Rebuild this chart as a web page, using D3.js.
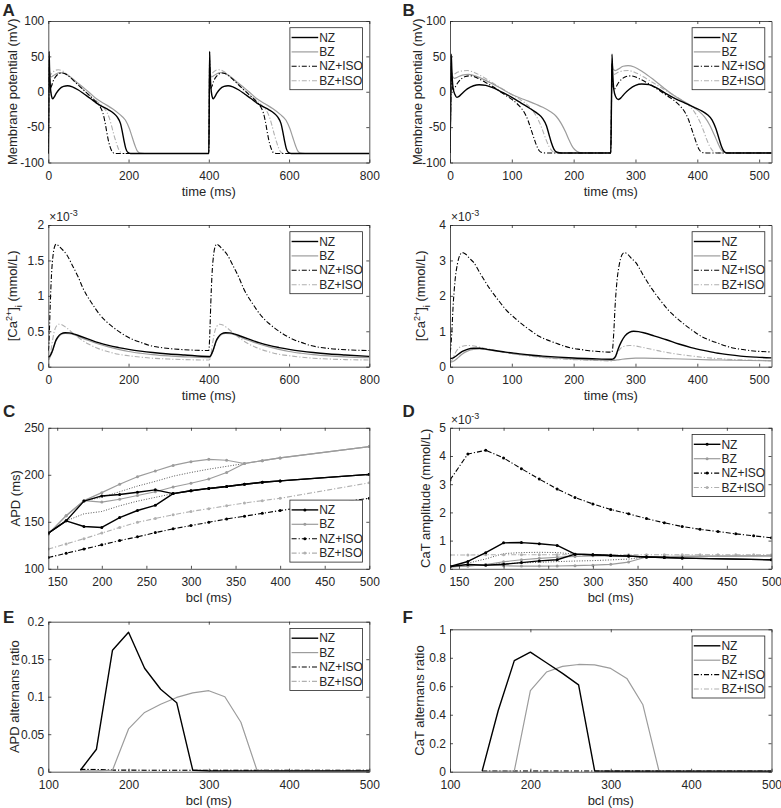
<!DOCTYPE html>
<html>
<head>
<meta charset="utf-8">
<script src="https://cdnjs.cloudflare.com/ajax/libs/d3/7.8.5/d3.min.js"></script>
<style>
body { margin: 0; background: #fff; }
text { font-family: "Liberation Sans", Arial, sans-serif; fill: #262626; }
</style>
</head>
<body>
<script>

// ---------- data ----------

var legendKeys = ["NZ", "BZ", "NZ+ISO", "BZ+ISO"];

// A: membrane potential, bcl 400 ms (time ms, mV)
var apA_NZ = [[0,-87.3],[1,-30],[2,57],[3,35],[5,8],[8,-6],[11,-10],[14,-8],[20,-2],[28,4],[38,7.5],[48,8.5],[60,7],[75,2.5],[90,-3.5],[105,-9.5],[120,-16],[135,-21],[150,-25.5],[162,-30],[172,-36],[180,-45],[185,-58],[189,-70],[193,-80],[198,-85.5],[205,-87.2],[260,-87.3],[399,-87.3],
  [400,-87.3],[401,-30],[402,57],[403,35],[405,8],[408,-6],[411,-10],[414,-8],[420,-2],[428,4],[438,7.5],[448,8.5],[460,7],[475,2.5],[490,-3.5],[505,-9.5],[520,-16],[535,-21],[550,-25.5],[562,-30],[572,-36],[580,-45],[585,-58],[589,-70],[593,-80],[598,-85.5],[605,-87.2],[660,-87.3],[800,-87.3]];
var apA_BZ = [[0,-87.3],[1,-30],[2,32],[4,24],[7,21],[12,22.5],[20,25.5],[30,27],[40,26],[55,21],[70,14],[85,7],[100,0],[120,-10],[140,-17],[160,-24],[178,-32],[192,-40],[202,-52],[209,-64],[216,-76],[222,-84],[229,-86.8],[240,-87.3],[399,-87.3],
  [400,-87.3],[401,-30],[402,32],[404,24],[407,21],[412,22.5],[420,25.5],[430,27],[440,26],[455,21],[470,14],[485,7],[500,0],[520,-10],[540,-17],[560,-24],[578,-32],[592,-40],[602,-52],[609,-64],[616,-76],[622,-84],[629,-86.8],[640,-87.3],[800,-87.3]];
var apA_NZISO = [[0,-87.3],[1,-30],[2,45],[3,20],[5,5],[8,8],[12,15],[18,21],[25,25],[33,26.5],[42,25.5],[55,20],[70,12],[85,4],[100,-4],[112,-10],[122,-16],[130,-22],[136,-30],[141,-42],[146,-58],[151,-72],[156,-81],[161,-86],[168,-87.3],[399,-87.3],
  [400,-87.3],[401,-30],[402,45],[403,20],[405,5],[408,8],[412,15],[418,21],[425,25],[433,26.5],[442,25.5],[455,20],[470,12],[485,4],[500,-4],[512,-10],[522,-16],[530,-22],[536,-30],[541,-42],[546,-58],[551,-72],[556,-81],[561,-86],[568,-87.3],[800,-87.3]];
var apA_BZISO = [[0,-87.3],[1,-30],[2,35],[4,24],[7,25],[12,28],[18,30.5],[25,31],[35,29.5],[50,23],[65,15],[80,7],[95,-1],[110,-8],[122,-14],[134,-20],[144,-27],[152,-37],[158,-49],[164,-62],[170,-73],[175,-81],[180,-85.5],[186,-87.2],[399,-87.3],
  [400,-87.3],[401,-30],[402,35],[404,24],[407,25],[412,28],[418,30.5],[425,31],[435,29.5],[450,23],[465,15],[480,7],[495,-1],[510,-8],[522,-14],[534,-20],[544,-27],[552,-37],[558,-49],[564,-62],[570,-73],[575,-81],[580,-85.5],[586,-87.2],[800,-87.3]];

// B: membrane potential, bcl 260 ms
var apB_NZ = [[0,-86.5],[1,-30],[2,53],[3,30],[5,5],[8,-4],[11,-8],[14,-7],[20,-2],[28,4],[38,8.5],[47,10],[58,9],[70,5.5],[85,-1],[100,-8],[115,-16],[130,-24],[142,-31],[150,-38],[156,-48],[160,-60],[164,-72],[168,-81],[173,-85.5],[180,-86.5],[259,-86.5],
  [260,-86.5],[261,-30],[262,53],[263,30],[265,3],[268,-7],[272,-11],[276,-9],[282,-3],[290,3.5],[300,9],[310,11],[322,10],[335,5],[350,-3],[365,-10],[380,-16],[395,-22],[407,-27],[417,-33],[424,-40],[430,-52],[435,-66],[439,-77],[443,-84],[448,-86.5],[520,-86.5]];
var apB_BZ = [[0,-86.5],[1,-30],[2,30],[4,22],[7,19],[12,20.5],[20,23.5],[30,24.5],[45,21],[60,15],[80,6],[100,-4],[120,-11],[140,-18],[150,-22],[162,-28],[172,-35],[180,-45],[187,-57],[193,-69],[199,-79],[205,-84],[212,-86.3],[220,-86.5],[259,-86.5],
  [260,-86.5],[261,-30],[262,40],[264,32],[267,30],[272,32],[280,36],[288,37],[298,35],[312,28],[328,18],[345,6],[360,-4],[375,-12],[390,-20],[402,-27],[412,-36],[420,-47],[427,-60],[433,-72],[438,-81],[444,-85.5],[450,-86.5],[520,-86.5]];
var apB_NZISO = [[0,-86.5],[1,-30],[2,40],[3,15],[5,3],[8,6],[12,12],[18,18],[25,21.5],[33,22.5],[45,19],[60,12],[75,4],[90,-5],[102,-12],[112,-20],[120,-29],[126,-40],[131,-53],[136,-66],[140,-76],[144,-83],[149,-86],[155,-86.5],[259,-86.5],
  [260,-86.5],[261,-30],[262,40],[263,15],[265,3],[268,6],[272,12],[278,18],[285,21.5],[293,22.5],[305,19],[320,12],[335,4],[350,-5],[362,-12],[372,-20],[380,-29],[386,-40],[391,-53],[396,-66],[400,-76],[404,-83],[409,-86],[415,-86.5],[520,-86.5]];
var apB_BZISO = [[0,-86.5],[1,-30],[2,32],[4,24],[7,25],[12,27.5],[20,29.5],[28,30],[40,27],[55,20],[70,12],[85,4],[100,-4],[115,-12],[127,-20],[135,-28],[140,-35],[145,-44],[150,-55],[155,-67],[160,-77],[165,-83.5],[171,-86.3],[178,-86.5],[259,-86.5],
  [260,-86.5],[261,-30],[262,32],[264,24],[267,25],[272,27.5],[280,29.5],[288,30],[300,27],[315,20],[330,12],[345,4],[360,-4],[375,-12],[387,-20],[395,-28],[400,-35],[405,-44],[410,-55],[415,-67],[420,-77],[425,-83.5],[431,-86.3],[438,-86.5],[520,-86.5]];

// calcium transients (x 1e-3 mmol/L), bcl 400
var caA_NZ = [[0,0.14],[3,0.145],[6,0.17],[10,0.22],[14,0.29],[18,0.36],[24,0.42],[32,0.465],[42,0.48],[52,0.478],[65,0.46],[80,0.43],[100,0.39],[125,0.34],[150,0.3],[175,0.27],[200,0.245],[230,0.22],[260,0.2],[300,0.18],[340,0.165],[399,0.145],
  [400,0.145],[403,0.145],[406,0.17],[410,0.22],[414,0.29],[418,0.36],[424,0.42],[432,0.465],[442,0.48],[452,0.478],[465,0.46],[480,0.43],[500,0.39],[525,0.34],[550,0.3],[575,0.27],[600,0.245],[630,0.22],[660,0.2],[700,0.18],[740,0.165],[800,0.145]];
var caA_BZ = [[0,0.125],[3,0.13],[6,0.16],[10,0.21],[14,0.28],[18,0.35],[24,0.41],[32,0.455],[42,0.47],[52,0.468],[65,0.45],[80,0.415],[100,0.37],[125,0.32],[150,0.28],[175,0.245],[200,0.215],[230,0.19],[260,0.17],[300,0.152],[340,0.14],[399,0.128],
  [400,0.128],[403,0.13],[406,0.16],[410,0.21],[414,0.28],[418,0.35],[424,0.41],[432,0.455],[442,0.47],[452,0.468],[465,0.45],[480,0.415],[500,0.37],[525,0.32],[550,0.28],[575,0.245],[600,0.215],[630,0.19],[660,0.17],[700,0.152],[740,0.14],[800,0.128]];
var caA_NZISO = [[0,0.226],[1,0.28],[3,0.55],[5,0.9],[8,1.3],[12,1.58],[16,1.7],[20,1.73],[25,1.71],[32,1.67],[46,1.58],[60,1.43],[75,1.26],[87,1.1],[108,0.9],[129,0.73],[150,0.61],[170,0.52],[190,0.445],[212,0.38],[232,0.34],[253,0.3],[275,0.275],[295,0.26],[330,0.243],[370,0.232],[399,0.228],
  [400,0.228],[401,0.28],[403,0.55],[405,0.9],[408,1.3],[412,1.58],[416,1.7],[420,1.73],[425,1.71],[432,1.67],[446,1.58],[460,1.43],[475,1.26],[487,1.1],[508,0.9],[529,0.73],[550,0.61],[570,0.52],[590,0.445],[612,0.38],[632,0.34],[653,0.3],[675,0.275],[695,0.26],[730,0.243],[770,0.232],[800,0.228]];
var caA_BZISO = [[0,0.1],[3,0.11],[6,0.2],[10,0.35],[15,0.5],[20,0.57],[27,0.6],[35,0.59],[45,0.55],[60,0.48],[80,0.39],[100,0.32],[125,0.255],[150,0.21],[175,0.175],[200,0.155],[230,0.135],[260,0.12],[300,0.108],[340,0.1],[399,0.095],
  [400,0.095],[403,0.11],[406,0.2],[410,0.35],[415,0.5],[420,0.57],[427,0.6],[435,0.59],[445,0.55],[460,0.48],[480,0.39],[500,0.32],[525,0.255],[550,0.21],[575,0.175],[600,0.155],[630,0.135],[660,0.12],[700,0.108],[740,0.1],[800,0.095]];

// calcium transients (x 1e-3 mmol/L), bcl 260
var caB_NZ = [[0,0.23],[4,0.24],[8,0.28],[14,0.36],[20,0.43],[28,0.49],[38,0.52],[48,0.52],[60,0.49],[75,0.45],[90,0.41],[110,0.37],[130,0.33],[150,0.3],[175,0.27],[200,0.245],[230,0.225],[262,0.21],
  [264,0.22],[268,0.3],[272,0.5],[277,0.7],[283,0.87],[290,0.97],[297,1.0],[305,0.99],[315,0.95],[330,0.87],[350,0.76],[370,0.64],[390,0.54],[410,0.46],[430,0.39],[450,0.34],[470,0.3],[495,0.27],[520,0.25]];
var caB_BZ = [[0,0.13],[4,0.14],[8,0.18],[14,0.27],[20,0.36],[28,0.44],[38,0.49],[48,0.5],[60,0.48],[75,0.44],[90,0.4],[110,0.35],[130,0.31],[150,0.27],[175,0.24],[200,0.215],[230,0.195],[262,0.18],
  [264,0.18],[270,0.19],[278,0.21],[288,0.23],[300,0.24],[315,0.24],[335,0.235],[360,0.225],[390,0.21],[420,0.195],[450,0.185],[485,0.175],[520,0.165]];
var caB_NZISO = [[0,0.4],[1,0.5],[3,1.0],[5,1.7],[8,2.4],[12,2.9],[16,3.15],[20,3.22],[25,3.18],[32,3.05],[38,2.95],[50,2.6],[64,2.21],[78,1.88],[91,1.6],[105,1.37],[118,1.18],[132,1.0],[145,0.85],[158,0.75],[172,0.66],[185,0.58],[198,0.52],[212,0.485],[225,0.45],[240,0.43],[261,0.41],
  [262,0.41],[263,0.5],[265,1.0],[267,1.7],[270,2.4],[274,2.9],[278,3.15],[282,3.22],[287,3.18],[294,3.05],[300,2.95],[312,2.6],[326,2.21],[340,1.88],[353,1.6],[367,1.37],[380,1.18],[394,1.0],[407,0.85],[420,0.75],[434,0.66],[447,0.58],[460,0.52],[474,0.485],[487,0.45],[502,0.43],[520,0.415]];
var caB_BZISO = [[0,0.13],[2,0.15],[5,0.25],[9,0.4],[14,0.52],[20,0.58],[28,0.6],[36,0.59],[48,0.55],[62,0.5],[80,0.43],[100,0.37],[125,0.31],[150,0.26],[175,0.225],[200,0.2],[230,0.18],[262,0.165],
  [264,0.17],[267,0.25],[271,0.4],[276,0.52],[282,0.58],[290,0.6],[298,0.59],[310,0.55],[324,0.5],[342,0.43],[362,0.37],[387,0.31],[412,0.26],[437,0.225],[462,0.2],[492,0.18],[520,0.17]];

// C: APD restitution (bcl ms -> APD ms); two alternans branches plus their mean
var bclC = [140,160,180,200,220,240,260,280,300,320,340,360,380,400,500];
var apdNZ_long  = [138,151,172,177.5,179,181.5,184,180,183,185.5,187.5,190,192,193.5,200.5];
var apdNZ_short = [138,151,145,144,154.5,162,167.5,180,183,185.5,187.5,190,192,193.5,200.5];
var bclNZmean = [160,180,200,220,240,260,280];
var apdNZ_mean = [151,158.5,161,167,172,176,180];
var apdBZ_long  = [137,156.5,172.5,181,190,198,204,210,214,216.5,215.5,212,215,218,230];
var apdBZ_short = [137,156.5,172.5,171,174,178,182,187,191,195.5,202.5,212,215,218,230];
var bclBZmean = [180,200,220,240,260,280,300,320,340,360];
var apdBZ_mean = [172.5,176,182,188,193,198.5,202.5,206,209,212];
var apdNZISO = [112,116.5,121,125.5,130,134,138.5,142.5,146,149.5,153,156,159,162,175];
var apdBZISO = [121,126.5,132,138,144,149.5,153.5,157.5,161,164,167,170,172.5,175,191.5];

// D: CaT amplitude (x 1e-3 mmol/L)
var bclD = [140,160,180,200,220,240,260,280,300,320,340,360,380,400,420,440,460,480,500];
var catNZ_big   = [0.08,0.26,0.57,0.92,0.93,0.89,0.83,0.52,0.5,0.47,0.45,0.42,0.4,0.38,0.32];
var catNZ_small = [0.08,0.15,0.125,0.16,0.22,0.28,0.32,0.52,0.5,0.47,0.45,0.42,0.4,0.38,0.32];
var catNZ_mean = [0.2,0.35,0.54,0.575,0.585,0.575,0.52];
var catBZ_big   = [0.07,0.1,0.15,0.25,0.32,0.37,0.41,0.44,0.46,0.47,0.45,0.42,0.43,0.44,0.46];
var catBZ_small = [0.07,0.1,0.15,0.11,0.096,0.096,0.1,0.11,0.127,0.16,0.24,0.42,0.43,0.44,0.46];
var catBZ_mean = [0.15,0.18,0.21,0.23,0.255,0.275,0.29,0.315,0.345,0.42];
var catNZISO = [3.15,4.07,4.2,3.93,3.55,3.18,2.83,2.53,2.3,2.1,1.95,1.78,1.63,1.5,1.4,1.32,1.24,1.17,1.1];
var catBZISO = [0.49,0.49,0.5,0.5,0.5,0.5,0.5,0.5,0.5,0.5,0.5,0.5,0.5,0.5,0.5,0.5,0.5,0.5,0.5];

// E, F: alternans ratios
var bclE = [140,160,180,200,220,240,260,280,300,320,340,360,380,400,500];
var altApdNZ = [0.002,0.03,0.162,0.186,0.138,0.11,0.092,0.002,0.001,0.001,0.001,0.001,0.001,0.001,0.001];
var altApdBZ = [0.001,0.001,0.002,0.057,0.079,0.09,0.099,0.105,0.108,0.1,0.066,0.002,0.001,0.001,0.001];
var altApdNZISO = [0.003,0.003,0.002,0.002,0.002,0.002,0.002,0.002,0.002,0.002,0.002,0.002,0.002,0.002,0.002];
var altApdBZISO = [0.004,0.003,0.003,0.003,0.002,0.002,0.002,0.002,0.002,0.002,0.002,0.002,0.002,0.002,0.002];
var altCaNZ = [0.005,0.43,0.78,0.84,0.765,0.69,0.61,0.005,0.003,0.003,0.003,0.003,0.003,0.003,0.003];
var altCaBZ = [0.003,0.003,0.005,0.57,0.7,0.74,0.753,0.75,0.725,0.655,0.47,0.005,0.003,0.003,0.003];
var altCaNZISO = [0.005,0.005,0.005,0.005,0.005,0.005,0.005,0.005,0.005,0.005,0.005,0.005,0.005,0.005,0.005];
var altCaBZISO = [0.004,0.004,0.004,0.004,0.004,0.004,0.004,0.004,0.004,0.004,0.004,0.004,0.004,0.004,0.004];

// ---------- drawing ----------

var width = 781;
var height = 808;

var svg = d3.select("body").append("svg")
	.attr("width", width)
	.attr("height", height);

// line styles per condition
var styles = {
	"NZ":     { color: "#000000", dash: null, lw: 1.4 },
	"BZ":     { color: "#9c9c9c", dash: null, lw: 1.2 },
	"NZ+ISO": { color: "#000000", dash: "5,2,1.2,2", lw: 1.1 },
	"BZ+ISO": { color: "#b0b0b0", dash: "5,2,1.2,2", lw: 1.1 },
	"mean":   { color: "#444444", dash: "1,1.6", lw: 0.9 }
};

var axisColor = "#262626";
var fontFam = "Liberation Sans, Arial, sans-serif";
var clipCount = 0;

function pairs(xs, ys) {
	return d3.zip(xs.slice(0, ys.length), ys);
}

function addRich(sel, parts) {
	parts.forEach(function(p) {
		var t = sel.append("tspan").text(p.t);
		if (p.sup) { t.attr("baseline-shift", "super").attr("font-size", "9px"); }
		if (p.sub) { t.attr("baseline-shift", "sub").attr("font-size", "9px"); }
	});
}

function drawPanel(p) {

	var g = svg.append("g");

	var x = d3.scaleLinear().domain(p.xDomain).range([p.left, p.right]);
	var y = d3.scaleLinear().domain(p.yDomain).range([p.bottom, p.top]);

	// clip to plot box
	clipCount += 1;
	var clipId = "clip" + clipCount;
	g.append("clipPath").attr("id", clipId)
		.append("rect")
		.attr("x", p.left).attr("y", p.top)
		.attr("width", p.right - p.left).attr("height", p.bottom - p.top);

	var line = d3.line()
		.x(function(d) { return x(d[0]); })
		.y(function(d) { return y(d[1]); })
		.curve(p.smooth ? d3.curveMonotoneX : d3.curveLinear);

	var plot = g.append("g").attr("clip-path", "url(#" + clipId + ")");

	p.series.forEach(function(s) {
		var st = styles[s.style];
		plot.append("path")
			.datum(s.data)
			.attr("d", line)
			.attr("fill", "none")
			.attr("stroke", st.color)
			.attr("stroke-width", st.lw)
			.attr("stroke-dasharray", st.dash)
			.attr("stroke-linejoin", "round");
		if (s.markers) {
			plot.selectAll(null)
				.data(s.data)
				.enter()
				.append("circle")
				.attr("cx", function(d) { return x(d[0]); })
				.attr("cy", function(d) { return y(d[1]); })
				.attr("r", 1.5)
				.attr("fill", st.color);
		}
	});

	// axes, ticks pointing inwards on all four sides
	var fmt = function(d) { return String(d); };
	var gx = g.append("g")
		.attr("transform", "translate(0," + p.bottom + ")")
		.call(d3.axisBottom(x).tickValues(p.xTicks).tickFormat(fmt).tickSizeInner(-3).tickSizeOuter(0).tickPadding(9));
	var gy = g.append("g")
		.attr("transform", "translate(" + p.left + ",0)")
		.call(d3.axisLeft(y).tickValues(p.yTicks).tickFormat(fmt).tickSizeInner(-3).tickSizeOuter(0).tickPadding(4));
	g.append("g")
		.attr("transform", "translate(0," + p.top + ")")
		.call(d3.axisTop(x).tickValues(p.xTicks).tickFormat("").tickSizeInner(-3).tickSizeOuter(0));
	g.append("g")
		.attr("transform", "translate(" + p.right + ",0)")
		.call(d3.axisRight(y).tickValues(p.yTicks).tickFormat("").tickSizeInner(-3).tickSizeOuter(0));

	g.selectAll(".domain, .tick line").attr("stroke", axisColor).attr("stroke-width", 0.8);
	g.selectAll(".tick text").attr("fill", axisColor);
	gx.attr("font-size", 12).attr("font-family", fontFam);
	gy.attr("font-size", 12).attr("font-family", fontFam);

	// x label
	g.append("text")
		.attr("x", (p.left + p.right) / 2)
		.attr("y", p.bottom + 33.5)
		.attr("text-anchor", "middle")
		.attr("font-size", 13)
		.text(p.xLabel);

	// y label
	var yl = g.append("text")
		.attr("transform", "translate(" + p.yLabelX + "," + ((p.top + p.bottom) / 2) + ") rotate(-90)")
		.attr("dy", "0.35em")
		.attr("text-anchor", "middle")
		.attr("font-size", 13);
	addRich(yl, p.yLabel);

	// exponent above the y axis
	if (p.exponent) {
		var ex = g.append("text")
			.attr("x", p.left + 1)
			.attr("y", p.top - 4)
			.attr("font-size", 12);
		addRich(ex, [{ t: "\u00d710" }, { t: "-3", sup: true }]);
	}

	// panel letter
	g.append("text")
		.attr("x", p.letterX)
		.attr("y", p.letterY)
		.attr("font-size", 17)
		.attr("font-weight", "bold")
		.attr("fill", "#000")
		.text(p.letter);

	// legend box
	var lw = 72.7, lh = 62;
	var lx = p.right - 6.7 - lw;
	var ly = p.legendBottom ? p.bottom - 6.7 - lh : p.top + 6.7;
	var lg = g.append("g").attr("transform", "translate(" + lx + "," + ly + ")");
	lg.append("rect")
		.attr("width", lw).attr("height", lh)
		.attr("fill", "#fff")
		.attr("stroke", axisColor)
		.attr("stroke-width", 0.8);
	legendKeys.forEach(function(k, i) {
		var st = styles[k];
		var yy = 9.8 + i * 14.4;
		lg.append("line")
			.attr("x1", 1.7).attr("x2", 28.3)
			.attr("y1", yy).attr("y2", yy)
			.attr("stroke", st.color)
			.attr("stroke-width", st.lw)
			.attr("stroke-dasharray", st.dash);
		if (p.markers) {
			lg.append("circle").attr("cx", 15).attr("cy", yy).attr("r", 1.5).attr("fill", st.color);
		}
		lg.append("text")
			.attr("x", 29.3).attr("y", yy)
			.attr("dy", "0.35em")
			.attr("font-size", 12)
			.text(k);
	});
}

var L = { left: 48.3, right: 369.3 };
var R = { left: 450, right: 771.5 };

var vmLabel = [{ t: "Membrane potential (mV)" }];
var caLabel = [{ t: "[Ca" }, { t: "2+", sup: true }, { t: "]" }, { t: "i", sub: true }, { t: " (mmol/L)" }];

// A
drawPanel({
	left: L.left, right: L.right, top: 21, bottom: 162.5,
	xDomain: [0, 800], xTicks: [0, 200, 400, 600, 800],
	yDomain: [-100, 100], yTicks: [-100, -50, 0, 50, 100],
	xLabel: "time (ms)", yLabel: vmLabel, yLabelX: 12,
	letter: "A", letterX: 2.5, letterY: 15.5, smooth: true,
	series: [
		{ style: "BZ+ISO", data: apA_BZISO },
		{ style: "BZ", data: apA_BZ },
		{ style: "NZ+ISO", data: apA_NZISO },
		{ style: "NZ", data: apA_NZ }
	]
});

// B
drawPanel({
	left: R.left, right: R.right, top: 21, bottom: 162.5,
	xDomain: [0, 520], xTicks: [0, 100, 200, 300, 400, 500],
	yDomain: [-100, 100], yTicks: [-100, -50, 0, 50, 100],
	xLabel: "time (ms)", yLabel: vmLabel, yLabelX: 417,
	letter: "B", letterX: 402.5, letterY: 15.5, smooth: true,
	series: [
		{ style: "BZ+ISO", data: apB_BZISO },
		{ style: "BZ", data: apB_BZ },
		{ style: "NZ+ISO", data: apB_NZISO },
		{ style: "NZ", data: apB_NZ }
	]
});

// calcium, left
drawPanel({
	left: L.left, right: L.right, top: 225, bottom: 366.7,
	xDomain: [0, 800], xTicks: [0, 200, 400, 600, 800],
	yDomain: [0, 2], yTicks: [0, 0.5, 1, 1.5, 2],
	xLabel: "time (ms)", yLabel: caLabel, yLabelX: 12,
	letter: "", letterX: 0, letterY: 0, smooth: true, exponent: true,
	series: [
		{ style: "BZ+ISO", data: caA_BZISO },
		{ style: "BZ", data: caA_BZ },
		{ style: "NZ+ISO", data: caA_NZISO },
		{ style: "NZ", data: caA_NZ }
	]
});

// calcium, right
drawPanel({
	left: R.left, right: R.right, top: 225, bottom: 366.7,
	xDomain: [0, 520], xTicks: [0, 100, 200, 300, 400, 500],
	yDomain: [0, 4], yTicks: [0, 1, 2, 3, 4],
	xLabel: "time (ms)", yLabel: caLabel, yLabelX: 420,
	letter: "", letterX: 0, letterY: 0, smooth: true, exponent: true,
	series: [
		{ style: "BZ+ISO", data: caB_BZISO },
		{ style: "BZ", data: caB_BZ },
		{ style: "NZ+ISO", data: caB_NZISO },
		{ style: "NZ", data: caB_NZ }
	]
});

// C
drawPanel({
	left: L.left, right: L.right, top: 427.8, bottom: 568.8,
	xDomain: [140, 500], xTicks: [150, 200, 250, 300, 350, 400, 450, 500],
	yDomain: [100, 250], yTicks: [100, 150, 200, 250],
	xLabel: "bcl (ms)", yLabel: [{ t: "APD (ms)" }], yLabelX: 15,
	letter: "C", letterX: 3, letterY: 417, markers: true, legendBottom: true,
	series: [
		{ style: "mean", data: pairs(bclBZmean, apdBZ_mean) },
		{ style: "mean", data: pairs(bclNZmean, apdNZ_mean) },
		{ style: "BZ+ISO", data: pairs(bclC, apdBZISO), markers: true },
		{ style: "BZ", data: pairs(bclC, apdBZ_long), markers: true },
		{ style: "BZ", data: pairs(bclC, apdBZ_short), markers: true },
		{ style: "NZ+ISO", data: pairs(bclC, apdNZISO), markers: true },
		{ style: "NZ", data: pairs(bclC, apdNZ_long), markers: true },
		{ style: "NZ", data: pairs(bclC, apdNZ_short), markers: true }
	]
});

// D
drawPanel({
	left: R.left, right: R.right, top: 427.8, bottom: 568.8,
	xDomain: [140, 500], xTicks: [150, 200, 250, 300, 350, 400, 450, 500],
	yDomain: [0, 5], yTicks: [0, 1, 2, 3, 4, 5],
	xLabel: "bcl (ms)", yLabel: [{ t: "CaT amplitude (mmol/L)" }], yLabelX: 425,
	letter: "D", letterX: 402.5, letterY: 417, markers: true, exponent: true,
	series: [
		{ style: "mean", data: pairs(bclBZmean, catBZ_mean) },
		{ style: "mean", data: pairs(bclNZmean, catNZ_mean) },
		{ style: "BZ+ISO", data: pairs(bclD, catBZISO), markers: true },
		{ style: "BZ", data: pairs(bclC, catBZ_big), markers: true },
		{ style: "BZ", data: pairs(bclC, catBZ_small), markers: true },
		{ style: "NZ+ISO", data: pairs(bclD, catNZISO), markers: true },
		{ style: "NZ", data: pairs(bclC, catNZ_big), markers: true },
		{ style: "NZ", data: pairs(bclC, catNZ_small), markers: true }
	]
});

// E
drawPanel({
	left: L.left, right: L.right, top: 621.7, bottom: 771.7,
	xDomain: [100, 500], xTicks: [100, 200, 300, 400, 500],
	yDomain: [0, 0.2], yTicks: [0, 0.05, 0.1, 0.15, 0.2],
	xLabel: "bcl (ms)", yLabel: [{ t: "APD alternans ratio" }], yLabelX: 14,
	letter: "E", letterX: 3, letterY: 623,
	series: [
		{ style: "BZ+ISO", data: pairs(bclE, altApdBZISO) },
		{ style: "NZ+ISO", data: pairs(bclE, altApdNZISO) },
		{ style: "BZ", data: pairs(bclE, altApdBZ) },
		{ style: "NZ", data: pairs(bclE, altApdNZ) }
	]
});

// F
drawPanel({
	left: R.left, right: R.right, top: 629.3, bottom: 771.7,
	xDomain: [100, 500], xTicks: [100, 200, 300, 400, 500],
	yDomain: [0, 1], yTicks: [0, 0.2, 0.4, 0.6, 0.8, 1],
	xLabel: "bcl (ms)", yLabel: [{ t: "CaT alternans ratio" }], yLabelX: 419,
	letter: "F", letterX: 402.5, letterY: 623,
	series: [
		{ style: "BZ+ISO", data: pairs(bclE, altCaBZISO) },
		{ style: "NZ+ISO", data: pairs(bclE, altCaNZISO) },
		{ style: "BZ", data: pairs(bclE, altCaBZ) },
		{ style: "NZ", data: pairs(bclE, altCaNZ) }
	]
});

</script>
</body>
</html>
